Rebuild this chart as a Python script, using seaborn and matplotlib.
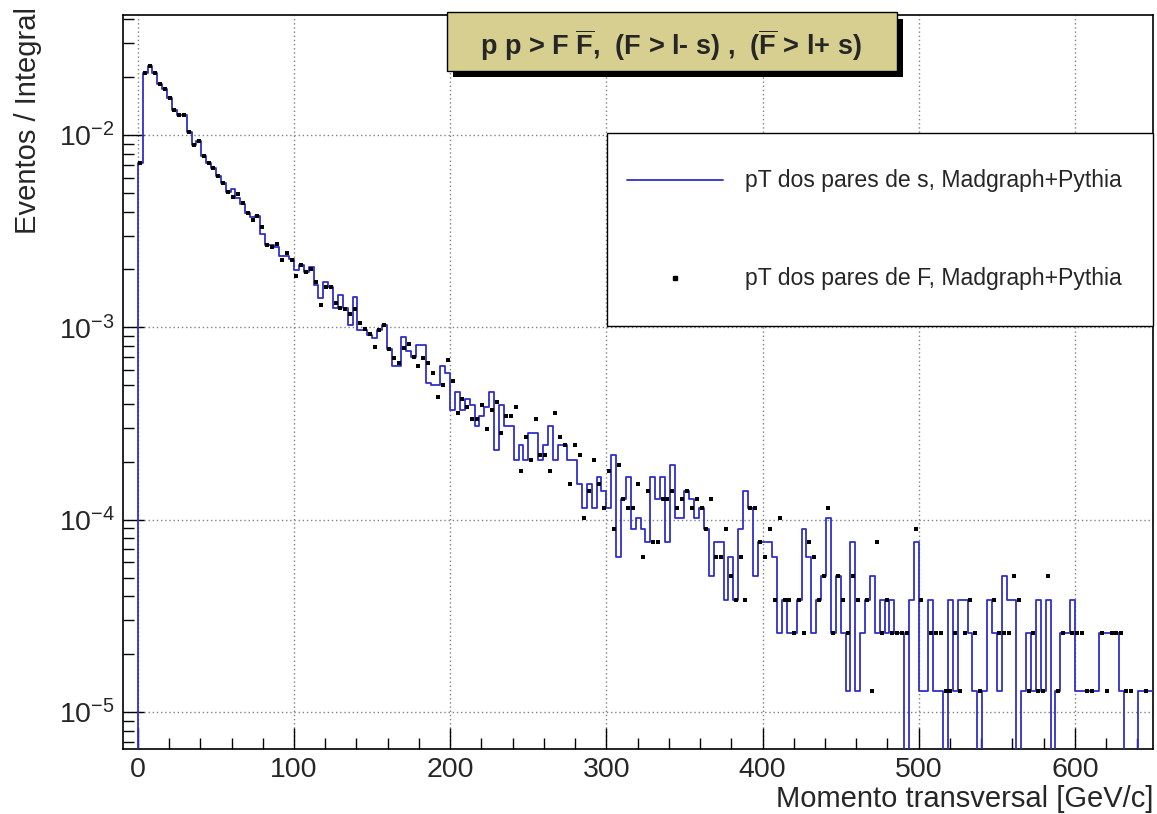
import numpy as np
import pandas as pd
import seaborn as sns
import matplotlib.pyplot as plt
from matplotlib.patches import Rectangle
from matplotlib.lines import Line2D
from matplotlib.ticker import FixedLocator, FixedFormatter, MultipleLocator, LogLocator, NullFormatter

# histograma: bins de 3.125 GeV de 0 a 650 GeV, normalizado (Eventos / Integral)
bin_width = 3.125
n_events = 25000

# contagens por bin - pares de s (linha azul)
counts_s = [
    561, 1647, 1784, 1647, 1439, 1350, 1212, 1054, 989, 989, 813, 691, 730, 608, 561, 525,
    479, 442, 397, 408, 367, 342, 309, 294, 298, 240, 210, 210, 205, 184, 184, 177,
    155, 165, 152, 160, 130, 111, 135, 127, 99, 115, 98, 80, 113, 76, 76, 71,
    69, 76, 80, 60, 49, 49, 70, 59, 55, 63, 63, 40, 39, 39, 49, 45,
    29, 36, 29, 33, 31, 24, 27, 30, 36, 18, 31, 24, 24, 16, 19, 16,
    22, 22, 16, 19, 24, 16, 19, 19, 16, 16, 12, 9, 12, 9, 13, 11,
    9, 17, 5, 10, 13, 7, 8, 7, 6, 13, 10, 13, 6, 15, 8, 8,
    11, 10, 8, 9, 7, 4, 6, 6, 3, 5, 3, 7, 11, 9, 4, 6,
    6, 6, 5, 2, 3, 2, 2, 3, 7, 5, 2, 3, 4, 8, 2, 4,
    2, 1, 6, 1, 2, 3, 4, 2, 3, 2, 3, 2, 2, 0, 3, 6,
    1, 1, 3, 1, 1, 0, 3, 1, 3, 3, 2, 1, 0, 1, 3, 2,
    1, 4, 3, 3, 0, 1, 2, 1, 3, 1, 3, 0, 1, 2, 2, 3,
    1, 1, 1, 1, 1, 2, 2, 2, 2, 1, 0, 0, 0, 1, 1, 1,
]

# contagens por bin - pares de F (pontos pretos)
counts_F = [
    561, 1647, 1784, 1647, 1439, 1350, 1212, 1054, 989, 989, 813, 691, 730, 608, 561, 525,
    479, 442, 397, 374, 386, 348, 309, 283, 298, 261, 210, 205, 212, 174, 190, 175,
    144, 165, 151, 157, 135, 102, 127, 126, 104, 99, 97, 92, 97, 82, 77, 72,
    62, 76, 80, 60, 54, 51, 61, 64, 55, 49, 54, 51, 45, 34, 39, 53,
    41, 28, 33, 30, 26, 26, 31, 23, 29, 32, 22, 27, 27, 30, 14, 21,
    16, 26, 17, 17, 14, 28, 21, 19, 12, 19, 17, 8, 11, 16, 12, 9,
    14, 7, 15, 10, 9, 9, 12, 5, 11, 6, 6, 10, 10, 11, 9, 10,
    11, 9, 10, 9, 7, 10, 5, 5, 7, 4, 3, 5, 3, 9, 9, 6,
    5, 7, 3, 8, 3, 3, 2, 3, 2, 6, 5, 3, 4, 9, 2, 4,
    3, 2, 4, 3, 0, 3, 1, 6, 2, 3, 2, 2, 2, 2, 0, 7,
    3, 0, 2, 2, 2, 1, 1, 2, 1, 2, 3, 2, 1, 0, 0, 3,
    2, 2, 2, 4, 3, 0, 1, 2, 1, 1, 4, 0, 1, 2, 0, 2,
    2, 2, 1, 1, 0, 2, 1, 2, 2, 2, 1, 1, 0, 0, 1, 0,
]

x_ticks = [0, 100, 200, 300, 400, 500, 600]
y_ticks = [1e-5, 1e-4, 1e-3, 1e-2]
y_labels = [r'$\mathregular{10^{-5}}$', r'$\mathregular{10^{-4}}$',
            r'$\mathregular{10^{-3}}$', r'$\mathregular{10^{-2}}$']

title = r'p p > F $\mathbf{\overline{F}}$,  (F > l- s) ,  ($\mathbf{\overline{F}}$ > l+ s)'
leg_s = 'pT dos pares de s, Madgraph+Pythia'
leg_F = 'pT dos pares de F, Madgraph+Pythia'

# normalizacao
edges = np.arange(len(counts_s) + 1) * bin_width
centers = edges[:-1] + bin_width / 2
dens_s = np.array(counts_s) / (n_events * bin_width)
dens_F = np.array(counts_F) / (n_events * bin_width)

# um bin vazio antes do zero para a linha subir do fundo em x=0
df_s = pd.DataFrame({'pt': np.concatenate([[-bin_width / 2], centers]),
                     'w': np.concatenate([[0.0], dens_s])})
edges_s = list(np.concatenate([[-bin_width], edges]))
df_F = pd.DataFrame({'pt': centers, 'y': dens_F})
df_F = df_F[df_F['y'] > 0]

sns.set_style('white')
plt.rcParams['font.family'] = ['Liberation Sans', 'DejaVu Sans']
plt.rcParams['mathtext.fontset'] = 'custom'
plt.rcParams['mathtext.rm'] = 'Liberation Sans'
plt.rcParams['mathtext.bf'] = 'Liberation Sans:bold'

W, H = 1157, 814
fig = plt.figure(figsize=(W / 100, H / 100), dpi=100)
ax = fig.add_axes([123 / W, 1 - 749 / H, (1153 - 123) / W, (749 - 15) / H])
ax.set_yscale('log', nonpositive='clip')

sns.histplot(data=df_s, x='pt', weights='w', bins=edges_s, element='step', fill=False,
             color='#2f2fc8', linewidth=1.3, ax=ax, zorder=3)
sns.scatterplot(data=df_F, x='pt', y='y', marker='s', s=10, color='black',
                linewidth=0, ax=ax, zorder=4)

ax.set_xlim(-9.5, 650)
ax.set_ylim(6.42e-6, 0.0421)

ax.xaxis.set_major_locator(FixedLocator(x_ticks))
ax.xaxis.set_minor_locator(MultipleLocator(20))
ax.yaxis.set_major_locator(FixedLocator(y_ticks))
ax.yaxis.set_major_formatter(FixedFormatter(y_labels))
ax.yaxis.set_minor_locator(LogLocator(base=10, subs=np.arange(2, 10)))
ax.yaxis.set_minor_formatter(NullFormatter())

ax.grid(True, which='major', ls=(0, (1, 2)), color='#808080', lw=1)
ax.set_axisbelow(True)
ax.tick_params(which='major', direction='in', length=15, width=1, labelsize=20.5,
               bottom=True, left=True, top=False, right=False, pad=6, color='black')
ax.tick_params(which='minor', direction='in', length=8, width=1,
               bottom=True, left=True, top=False, right=False, color='black')
for sp in ax.spines.values():
    sp.set_color('black')
    sp.set_linewidth(1.2)

ax.set_xlabel('Momento transversal [GeV/c]', loc='right', fontsize=21, labelpad=1)
ax.set_ylabel('')


def fx(px):
    return px / W


def fy(py):
    return 1 - py / H


fig.text(fx(28), fy(7), 'Eventos / Integral', rotation=90, ha='center', va='top', fontsize=21)

# caixa do titulo com sombra
fig.add_artist(Rectangle((fx(453), fy(77)), (903 - 453) / W, (77 - 19) / H,
                         facecolor='black', edgecolor='none', transform=fig.transFigure, zorder=5))
fig.add_artist(Rectangle((fx(447), fy(71)), (897 - 447) / W, (71 - 12) / H,
                         facecolor='#d6cf8f', edgecolor='black', lw=1,
                         transform=fig.transFigure, zorder=6))
fig.text(fx(671), fy(45), title, ha='center', va='center', fontsize=19.5,
         fontweight='bold', zorder=7)

# legenda
fig.add_artist(Rectangle((fx(607), fy(326)), (1153 - 607) / W, (326 - 133) / H,
                         facecolor='white', edgecolor='black', lw=1,
                         transform=fig.transFigure, zorder=5))
fig.add_artist(Line2D([fx(627), fx(723)], [fy(180), fy(180)], color='#2f2fc8', lw=1.3,
                      transform=fig.transFigure, zorder=6))
fig.text(fx(745), fy(180), leg_s, ha='left', va='center', fontsize=16.6, zorder=7)
fig.add_artist(Line2D([fx(675)], [fy(278)], marker='s', ms=3.2, color='black', lw=0,
                      transform=fig.transFigure, zorder=6))
fig.text(fx(745), fy(278), leg_F, ha='left', va='center', fontsize=16.6, zorder=7)

fig.savefig('out.png', dpi=100, facecolor='white')
